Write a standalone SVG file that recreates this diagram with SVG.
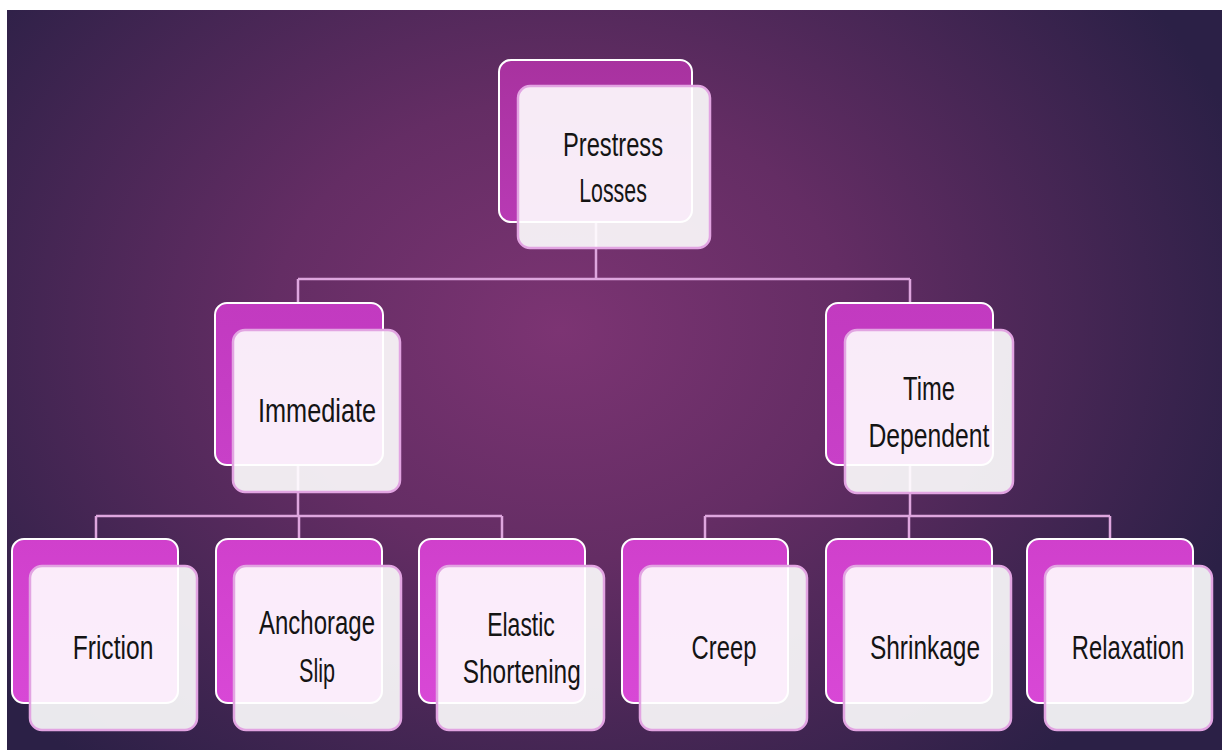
<svg xmlns="http://www.w3.org/2000/svg" width="1224" height="750" viewBox="0 0 1224 750">
<defs>
<radialGradient id="bg" gradientUnits="userSpaceOnUse" cx="560" cy="330" r="720" gradientTransform="translate(560 330) scale(1 0.8) translate(-560 -330)">
<stop offset="0" stop-color="#7c3473"/>
<stop offset="0.4" stop-color="#642d64"/>
<stop offset="1" stop-color="#2b2046"/>
</radialGradient>
<linearGradient id="mag1" x1="0" y1="0" x2="0" y2="1">
<stop offset="0" stop-color="#a8329f"/>
<stop offset="1" stop-color="#b83ab4"/>
</linearGradient>
<linearGradient id="mag2" x1="0" y1="0" x2="0" y2="1">
<stop offset="0" stop-color="#c23ac0"/>
<stop offset="1" stop-color="#c840c8"/>
</linearGradient>
<linearGradient id="mag3" x1="0" y1="0" x2="0" y2="1">
<stop offset="0" stop-color="#d040cc"/>
<stop offset="1" stop-color="#d848d6"/>
</linearGradient>
</defs>
<style>
.back{stroke:#ffffff;stroke-width:2}
.front{fill:#ffffff;fill-opacity:0.9;stroke:#e2a4e2;stroke-width:2.5}
.lbl{font-family:"Liberation Sans",Arial,sans-serif;font-size:34px;fill:#141414;text-anchor:middle}
.conn{stroke:#dea6de;stroke-width:2.5;fill:none}
</style>
<rect x="0" y="0" width="1224" height="750" fill="#ffffff"/>
<rect x="7" y="10" width="1215" height="740" fill="url(#bg)"/>
<g id="connectors">
<path class="conn" d="M596 222 V279 M298 279 H910 M298 279 V303 M910 279 V303"/>
<path class="conn" d="M298 465 V516 M96 516 H502 M96 516 V539 M299 516 V539 M502 516 V539"/>
<path class="conn" d="M910 465 V516 M705 516 H1110 M705 516 V539 M909 516 V539 M1110 516 V539"/>
</g>
<g id="prestress-losses">
<rect class="back" x="499" y="60" width="193" height="162" rx="12" fill="url(#mag1)"/>
<rect class="front" x="518" y="86" width="192" height="162" rx="12"/>
<text class="lbl" transform="translate(613 0) scale(0.72 1)"><tspan x="0" y="156" textLength="139" lengthAdjust="spacingAndGlyphs">Prestress</tspan><tspan x="0" y="202" textLength="94" lengthAdjust="spacingAndGlyphs">Losses</tspan></text>
</g>
<g id="immediate">
<rect class="back" x="215" y="303" width="168" height="162" rx="12" fill="url(#mag2)"/>
<rect class="front" x="233" y="330" width="167" height="162" rx="12"/>
<text class="lbl" transform="translate(317 0) scale(0.72 1)" x="0" y="422" textLength="164" lengthAdjust="spacingAndGlyphs">Immediate</text>
</g>
<g id="time-dependent">
<rect class="back" x="826" y="303" width="167" height="162" rx="12" fill="url(#mag2)"/>
<rect class="front" x="845" y="330" width="168" height="163" rx="12"/>
<text class="lbl" transform="translate(929 0) scale(0.72 1)"><tspan x="0" y="400" textLength="72" lengthAdjust="spacingAndGlyphs">Time</tspan><tspan x="0" y="447" textLength="168" lengthAdjust="spacingAndGlyphs">Dependent</tspan></text>
</g>
<g id="friction">
<rect class="back" x="12" y="539" width="166" height="164" rx="12" fill="url(#mag3)"/>
<rect class="front" x="30" y="566" width="167" height="164" rx="12"/>
<text class="lbl" transform="translate(113 0) scale(0.72 1)" x="0" y="659" textLength="112" lengthAdjust="spacingAndGlyphs">Friction</text>
</g>
<g id="anchorage-slip">
<rect class="back" x="216" y="539" width="166" height="164" rx="12" fill="url(#mag3)"/>
<rect class="front" x="234" y="566" width="167" height="164" rx="12"/>
<text class="lbl" transform="translate(317 0) scale(0.72 1)"><tspan x="0" y="634" textLength="161" lengthAdjust="spacingAndGlyphs">Anchorage</tspan><tspan x="0" y="682" textLength="50" lengthAdjust="spacingAndGlyphs">Slip</tspan></text>
</g>
<g id="elastic-shortening">
<rect class="back" x="419" y="539" width="166" height="164" rx="12" fill="url(#mag3)"/>
<rect class="front" x="437" y="566" width="167" height="164" rx="12"/>
<text class="lbl" transform="translate(521 0) scale(0.72 1)"><tspan x="0" y="636" textLength="94" lengthAdjust="spacingAndGlyphs">Elastic</tspan><tspan x="1" y="683" textLength="164" lengthAdjust="spacingAndGlyphs">Shortening</tspan></text>
</g>
<g id="creep">
<rect class="back" x="622" y="539" width="166" height="164" rx="12" fill="url(#mag3)"/>
<rect class="front" x="640" y="566" width="167" height="164" rx="12"/>
<text class="lbl" transform="translate(724 0) scale(0.72 1)" x="0" y="659" textLength="90" lengthAdjust="spacingAndGlyphs">Creep</text>
</g>
<g id="shrinkage">
<rect class="back" x="826" y="539" width="166" height="164" rx="12" fill="url(#mag3)"/>
<rect class="front" x="844" y="566" width="167" height="164" rx="12"/>
<text class="lbl" transform="translate(925 0) scale(0.72 1)" x="0" y="659" textLength="153" lengthAdjust="spacingAndGlyphs">Shrinkage</text>
</g>
<g id="relaxation">
<rect class="back" x="1027" y="539" width="166" height="164" rx="12" fill="url(#mag3)"/>
<rect class="front" x="1045" y="566" width="167" height="164" rx="12"/>
<text class="lbl" transform="translate(1128 0) scale(0.72 1)" x="0" y="659" textLength="156" lengthAdjust="spacingAndGlyphs">Relaxation</text>
</g>
</svg>
